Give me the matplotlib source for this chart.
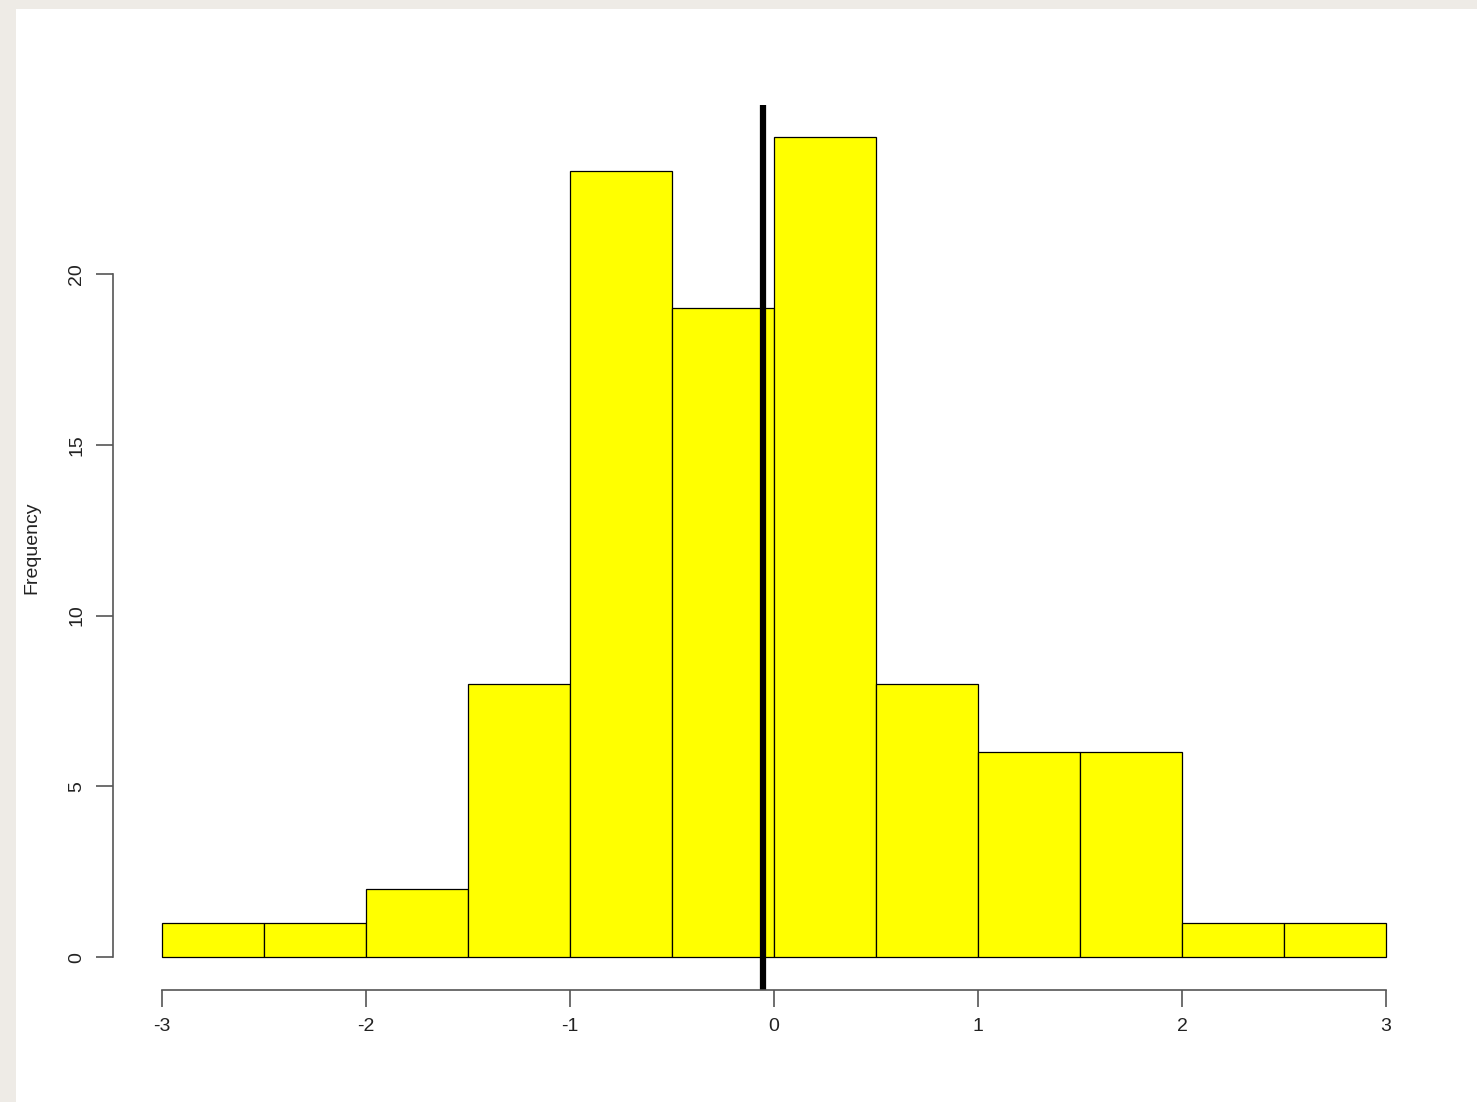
import numpy as np
import matplotlib
matplotlib.use("Agg")
import matplotlib.pyplot as plt
from matplotlib.patches import Rectangle

plt.rcParams["font.family"] = ["Liberation Sans", "DejaVu Sans"]

# histogram data
bin_edges = [-3.0, -2.5, -2.0, -1.5, -1.0, -0.5, 0.0, 0.5, 1.0, 1.5, 2.0, 2.5, 3.0]
counts = [1, 1, 2, 8, 23, 19, 24, 8, 6, 6, 1, 1]
mean_line = -0.055
x_ticks = [-3, -2, -1, 0, 1, 2, 3]
y_ticks = [0, 5, 10, 15, 20]

fig = plt.figure(figsize=(14.77, 11.02), dpi=100, facecolor="#eeebe6")
fig.patches.append(Rectangle((16 / 1477, 0), 1 - 16 / 1477, 1 - 9 / 1102,
                             transform=fig.transFigure, facecolor="white",
                             edgecolor="none", zorder=-10))

ax = fig.add_axes([113 / 1477, 1 - 990 / 1102, 1322 / 1477, 885.5 / 1102])
ax.set_zorder(1)
ax.set_facecolor("none")

lefts = np.array(bin_edges[:-1])
widths = np.diff(bin_edges)
ax.bar(lefts, counts, width=widths, align="edge", color="#ffff00",
       edgecolor="black", linewidth=0.9)
ax.axvline(mean_line, color="black", linewidth=4.5)

ax.set_xlim(-3.24, 3.24)
ax.set_ylim(-0.96, 24.96)

for s in ["top", "right"]:
    ax.spines[s].set_visible(False)
ax.spines["left"].set_bounds(0, 20)
ax.spines["bottom"].set_bounds(-3, 3)
for s in ["left", "bottom"]:
    ax.spines[s].set_color("#555555")
    ax.spines[s].set_linewidth(1.2)

ax.set_xticks(x_ticks)
ax.set_xticklabels([str(t) for t in x_ticks])
ax.set_yticks(y_ticks)
ax.set_yticklabels([str(t) for t in y_ticks], rotation=90, va="center")
ax.tick_params(axis="both", length=12, width=1.2, color="#555555",
               labelsize=14, labelcolor="#222222", pad=8)

fig.text(32 / 1477, 1 - 548 / 1102, "Frequency", rotation=90,
         ha="center", va="center", fontsize=14, color="#222222")

fig.savefig("out.png", dpi=100, facecolor=fig.get_facecolor())
